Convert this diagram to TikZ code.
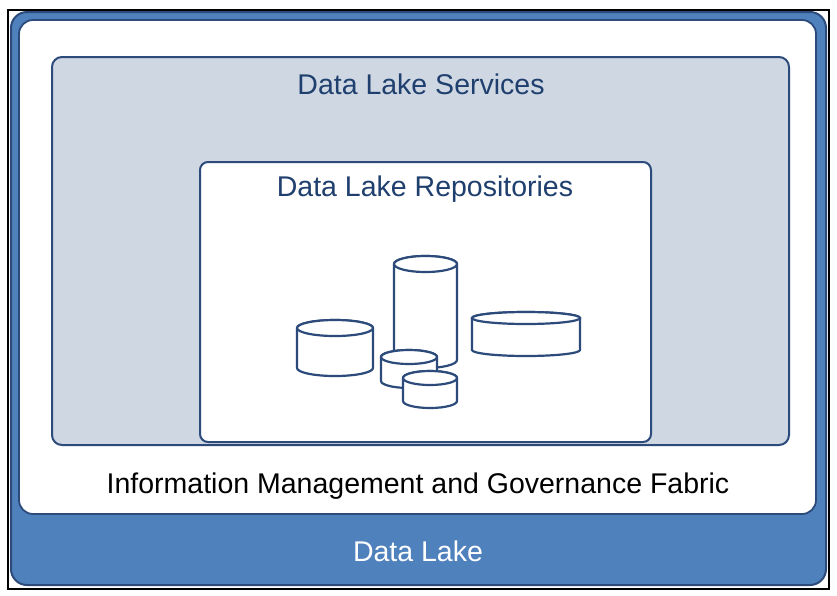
\documentclass[tikz,border=0pt]{standalone}
\usepackage{fontspec}
\setmainfont{Liberation Sans}
\definecolor{lakeblue}{HTML}{4F81BD}
\definecolor{edgeblue}{HTML}{2C4A7A}
\definecolor{svcgray}{HTML}{CFD7E2}
\definecolor{txtblue}{HTML}{1F3F6E}
\newcommand\mycyl[5]{% x1,x2,ytop,ybottom,ry
  \pgfmathsetmacro\cx{(#1+#2)/2}\pgfmathsetmacro\rx{(#2-#1)/2}
  \draw[cylline] (#1,#3) -- (#1,#4) arc[start angle=180,end angle=360,x radius=\rx,y radius=-#5] -- (#2,#3) arc[start angle=0,end angle=180,x radius=\rx,y radius=-#5] -- cycle;
  \draw[cylline] (\cx,#3) ellipse[x radius=\rx,y radius=#5];
}
\tikzset{cylline/.style={draw=edgeblue,line width=2.2pt,fill=white},
 lbl/.style={inner sep=0pt,font=\fontsize{28.5}{32}\selectfont}}
\begin{document}
\begin{tikzpicture}[x=1pt,y=-1pt]
\useasboundingbox (0,0) rectangle (837,595);
\draw[black,line width=1.5pt] (8,10) rectangle (829,589);
\draw[fill=lakeblue,draw=edgeblue,line width=2pt,rounded corners=16pt] (11,12) rectangle (826,585);
\draw[fill=white,draw=edgeblue,line width=1.8pt,rounded corners=14pt] (19,20) rectangle (816,514);
\draw[fill=svcgray,draw=edgeblue,line width=2pt,rounded corners=10pt] (52,57) rectangle (789,445);
\draw[fill=white,draw=edgeblue,line width=2pt,rounded corners=8pt] (200,162) rectangle (651,442);
\node[lbl,text=txtblue] (svc) at (421,84) {Data Lake Services};
\node[lbl,text=txtblue] (repo) at (425,189) {Data Lake Repositories};
\node[lbl,text=black] (imgf) at (418,486) {Information Management and Governance Fabric};
\node[lbl,text=white] (lake) at (418,551) {Data Lake};
\mycyl{394}{457}{264}{360}{8}
\mycyl{297}{373}{328}{368}{8}
\mycyl{472}{580}{318}{350}{6}
\mycyl{381}{437}{357}{381}{7}
\mycyl{403}{457}{378}{401}{7}
\end{tikzpicture}
\end{document}
